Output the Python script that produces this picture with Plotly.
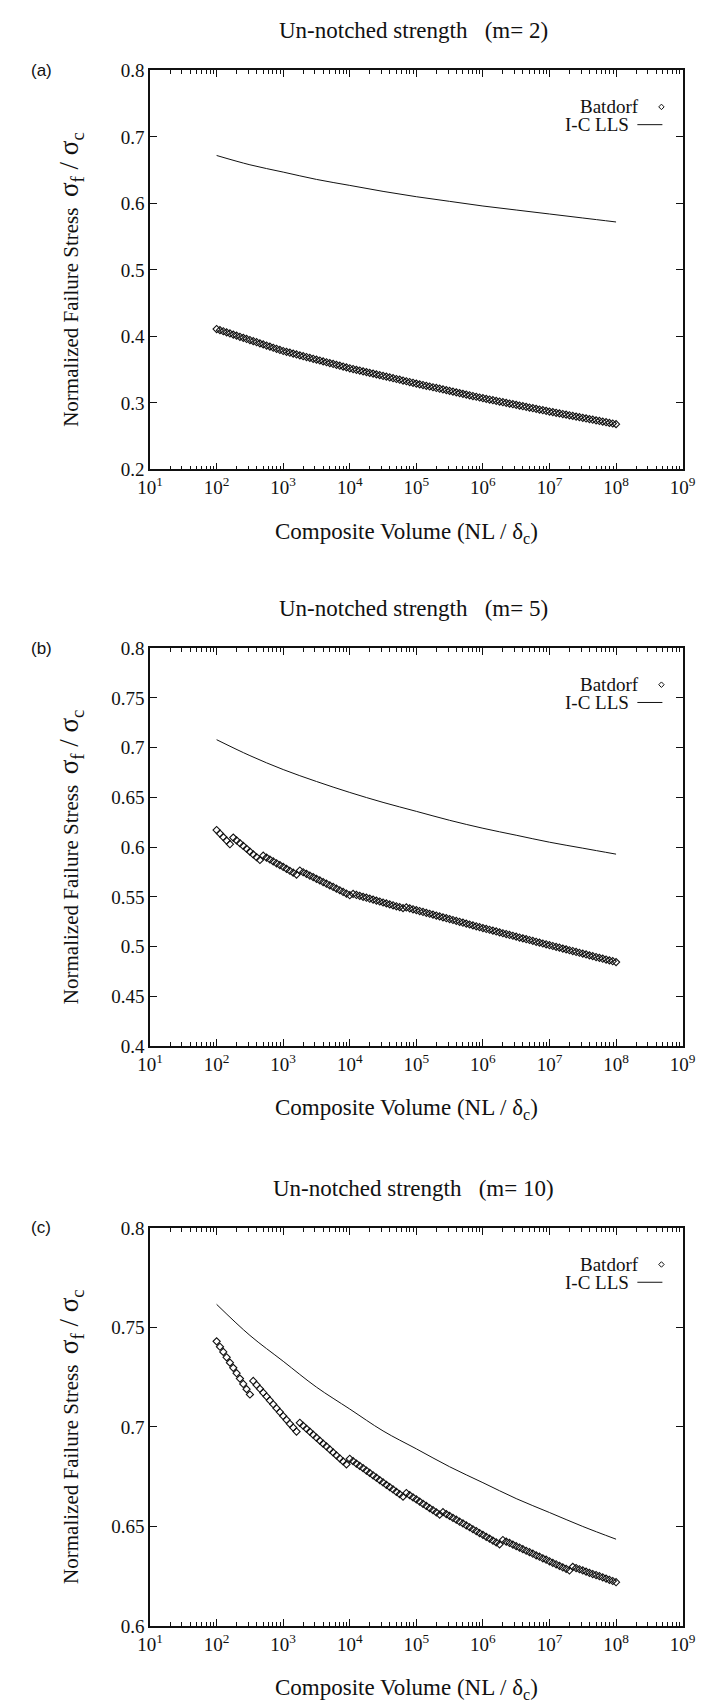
import plotly.graph_objects as go

W, H = 704, 1707

# ---------------- data ----------------
# log10 of composite volume at each Batdorf point
batdorf_logv = [
    2.00, 2.05, 2.10, 2.15, 2.20, 2.25, 2.30, 2.35, 2.40, 2.45,
    2.50, 2.55, 2.60, 2.65, 2.70, 2.75, 2.80, 2.85, 2.90, 2.95,
    3.00, 3.05, 3.10, 3.15, 3.20, 3.25, 3.30, 3.35, 3.40, 3.45,
    3.50, 3.55, 3.60, 3.65, 3.70, 3.75, 3.80, 3.85, 3.90, 3.95,
    4.00, 4.05, 4.10, 4.15, 4.20, 4.25, 4.30, 4.35, 4.40, 4.45,
    4.50, 4.55, 4.60, 4.65, 4.70, 4.75, 4.80, 4.85, 4.90, 4.95,
    5.00, 5.05, 5.10, 5.15, 5.20, 5.25, 5.30, 5.35, 5.40, 5.45,
    5.50, 5.55, 5.60, 5.65, 5.70, 5.75, 5.80, 5.85, 5.90, 5.95,
    6.00, 6.05, 6.10, 6.15, 6.20, 6.25, 6.30, 6.35, 6.40, 6.45,
    6.50, 6.55, 6.60, 6.65, 6.70, 6.75, 6.80, 6.85, 6.90, 6.95,
    7.00, 7.05, 7.10, 7.15, 7.20, 7.25, 7.30, 7.35, 7.40, 7.45,
    7.50, 7.55, 7.60, 7.65, 7.70, 7.75, 7.80, 7.85, 7.90, 7.95,
    8.00,
]

batdorf_m2 = [
    0.4110, 0.4093, 0.4077, 0.4060, 0.4044, 0.4027, 0.4011, 0.3994, 0.3978, 0.3961,
    0.3945, 0.3928, 0.3912, 0.3895, 0.3879, 0.3862, 0.3846, 0.3829, 0.3813, 0.3796,
    0.3780, 0.3767, 0.3754, 0.3741, 0.3728, 0.3715, 0.3702, 0.3689, 0.3676, 0.3663,
    0.3650, 0.3637, 0.3624, 0.3611, 0.3598, 0.3585, 0.3572, 0.3559, 0.3546, 0.3533,
    0.3520, 0.3509, 0.3497, 0.3486, 0.3474, 0.3463, 0.3451, 0.3440, 0.3428, 0.3417,
    0.3405, 0.3394, 0.3382, 0.3371, 0.3359, 0.3348, 0.3336, 0.3325, 0.3313, 0.3302,
    0.3290, 0.3279, 0.3268, 0.3257, 0.3246, 0.3235, 0.3224, 0.3213, 0.3202, 0.3191,
    0.3180, 0.3169, 0.3158, 0.3147, 0.3136, 0.3125, 0.3114, 0.3103, 0.3092, 0.3081,
    0.3070, 0.3060, 0.3050, 0.3040, 0.3030, 0.3020, 0.3010, 0.3000, 0.2990, 0.2980,
    0.2970, 0.2960, 0.2950, 0.2940, 0.2930, 0.2920, 0.2910, 0.2900, 0.2890, 0.2880,
    0.2870, 0.2861, 0.2851, 0.2842, 0.2832, 0.2823, 0.2813, 0.2804, 0.2794, 0.2785,
    0.2775, 0.2766, 0.2756, 0.2747, 0.2737, 0.2728, 0.2718, 0.2709, 0.2699, 0.2690,
    0.2680,
]

batdorf_m5 = [
    0.6172, 0.6137, 0.6101, 0.6066, 0.6030,
    0.6096, 0.6068, 0.6040, 0.6012, 0.5984, 0.5955, 0.5927, 0.5899, 0.5871,
    0.5914, 0.5895, 0.5876, 0.5857, 0.5838, 0.5820, 0.5801, 0.5782, 0.5763, 0.5744, 0.5725,
    0.5765, 0.5748, 0.5732, 0.5715, 0.5699, 0.5682, 0.5666, 0.5649, 0.5633, 0.5616,
    0.5600, 0.5583, 0.5567, 0.5550, 0.5534, 0.5517,
    0.5530, 0.5520, 0.5511, 0.5501, 0.5492, 0.5482, 0.5473, 0.5463, 0.5454, 0.5444,
    0.5435, 0.5425, 0.5416, 0.5406, 0.5397, 0.5387, 0.5394, 0.5385, 0.5376, 0.5367,
    0.5358, 0.5349, 0.5340, 0.5331, 0.5322, 0.5313, 0.5304, 0.5295, 0.5286, 0.5277,
    0.5268, 0.5259, 0.5250, 0.5241, 0.5232, 0.5223, 0.5214, 0.5205, 0.5196, 0.5187,
    0.5178, 0.5170, 0.5161, 0.5153, 0.5144, 0.5135, 0.5127, 0.5118, 0.5110, 0.5101,
    0.5092, 0.5084, 0.5075, 0.5067, 0.5058, 0.5049, 0.5041, 0.5032, 0.5024, 0.5015,
    0.5007, 0.4998, 0.4990, 0.4981, 0.4973, 0.4964, 0.4956, 0.4947, 0.4939, 0.4930,
    0.4922, 0.4913, 0.4905, 0.4896, 0.4888, 0.4879, 0.4871, 0.4862, 0.4854, 0.4845,
]

batdorf_m10 = [
    0.7430, 0.7403, 0.7377, 0.7350, 0.7323, 0.7297, 0.7270, 0.7243, 0.7216, 0.7190, 0.7163,
    0.7231, 0.7211, 0.7192, 0.7172, 0.7153, 0.7133, 0.7114, 0.7094, 0.7075, 0.7055,
    0.7036, 0.7016, 0.6997, 0.6977,
    0.7021, 0.7006, 0.6991, 0.6976, 0.6961, 0.6946, 0.6931, 0.6916, 0.6902, 0.6887,
    0.6872, 0.6857, 0.6842, 0.6827, 0.6812,
    0.6840, 0.6828, 0.6816, 0.6804, 0.6793, 0.6781, 0.6769, 0.6757, 0.6745, 0.6733,
    0.6721, 0.6709, 0.6698, 0.6686, 0.6674, 0.6662, 0.6650,
    0.6668, 0.6657, 0.6646, 0.6636, 0.6625, 0.6614, 0.6603, 0.6592, 0.6582, 0.6571, 0.6560,
    0.6572, 0.6562, 0.6553, 0.6543, 0.6534, 0.6524, 0.6515, 0.6505, 0.6496, 0.6486,
    0.6477, 0.6467, 0.6458, 0.6448, 0.6439, 0.6429, 0.6420, 0.6410,
    0.6432, 0.6424, 0.6417, 0.6409, 0.6401, 0.6394, 0.6386, 0.6378, 0.6371, 0.6363,
    0.6355, 0.6348, 0.6340, 0.6333, 0.6325, 0.6317, 0.6310, 0.6302, 0.6294, 0.6287, 0.6279,
    0.6297, 0.6291, 0.6285, 0.6279, 0.6273, 0.6267, 0.6261, 0.6256, 0.6250, 0.6244,
    0.6238, 0.6232, 0.6226, 0.6220,
]

# log10 of composite volume for the I-C LLS curves
lls_logv = [2.0, 2.5, 3.0, 3.5, 4.0, 4.5, 5.0, 5.5, 6.0, 6.5, 7.0, 7.5, 8.0]
lls_m2 = [0.672, 0.658, 0.647, 0.636, 0.627, 0.618, 0.610, 0.603, 0.596, 0.590, 0.584, 0.578, 0.572]
lls_m5 = [0.708, 0.692, 0.678, 0.666, 0.655, 0.645, 0.636, 0.627, 0.619, 0.612, 0.605, 0.599, 0.593]
lls_m10 = [0.7616, 0.746, 0.733, 0.720, 0.709, 0.698, 0.689, 0.680, 0.672, 0.664, 0.657, 0.650, 0.6436]

panel_titles = ["Un-notched strength\u00a0\u00a0\u00a0(m= 2)",
                "Un-notched strength\u00a0\u00a0\u00a0(m= 5)",
                "Un-notched strength\u00a0\u00a0\u00a0(m= 10)"]
panel_tags = ["(a)", "(b)", "(c)"]
y_ranges = [[0.2, 0.8], [0.4, 0.8], [0.6, 0.8]]
y_dticks = [0.1, 0.05, 0.05]
x_tick_exps = [1, 2, 3, 4, 5, 6, 7, 8, 9]
legend_names = ["Batdorf", "I-C LLS"]
x_title = "Composite Volume (NL / \u03b4<sub>c</sub>)"
y_title = ("Normalized Failure Stress\u00a0\u00a0"
           "<span style='font-size:27px'>\u03c3<sub>f</sub> / \u03c3<sub>c</sub></span>")

for arr in (batdorf_m2, batdorf_m5, batdorf_m10):
    assert len(arr) == len(batdorf_logv), len(arr)

batdorf = [batdorf_m2, batdorf_m5, batdorf_m10]
lls = [lls_m2, lls_m5, lls_m10]

# ---------------- layout geometry (pixels) ----------------
X0, X1 = 134, 687
frames = [(53, 457), (638, 1041), (1225, 1628)]

def px(xp):
    return xp / W

def py(yp):
    return 1 - yp / H

SERIF = "Liberation Serif"
SANS = "Liberation Sans"
INK = "#111111"

fig = go.Figure()
annotations = []
shapes = []

x_vals = [10 ** e for e in batdorf_logv]
x_lls = [10 ** e for e in lls_logv]
minor_vals = [m * 10 ** k for k in range(1, 9) for m in range(2, 10)]

for i in range(3):
    sfx = "" if i == 0 else str(i + 1)
    top, bot = frames[i]
    fig.add_trace(go.Scatter(
        x=x_vals, y=batdorf[i], mode="markers", name=legend_names[0],
        marker=dict(symbol="diamond-open", size=5.5, color=INK, line=dict(width=1.1, color=INK)),
        xaxis="x" + sfx, yaxis="y" + sfx, showlegend=False))
    fig.add_trace(go.Scatter(
        x=x_lls, y=lls[i], mode="lines", name=legend_names[1],
        line=dict(color=INK, width=1, shape="spline"),
        xaxis="x" + sfx, yaxis="y" + sfx, showlegend=False))

    fig.layout["xaxis" + sfx] = dict(
        type="log", range=[1, 9], domain=[px(X0), px(X1)], anchor="y" + sfx,
        tickvals=[10 ** k for k in x_tick_exps],
        ticktext=[f"10<sup>{k}</sup>" for k in x_tick_exps],
        ticks="inside", ticklen=7, tickwidth=1, tickcolor=INK,
        minor=dict(tickvals=minor_vals, ticks="inside", ticklen=4, tickwidth=1, tickcolor=INK),
        mirror="ticks", showline=True, linecolor=INK, linewidth=1.5,
        showgrid=False, zeroline=False,
        tickfont=dict(family=SERIF, size=19, color=INK))
    fig.layout["yaxis" + sfx] = dict(
        range=y_ranges[i], dtick=y_dticks[i], tick0=y_ranges[i][0],
        domain=[py(bot), py(top)], anchor="x" + sfx,
        ticks="inside", ticklen=7, tickwidth=1, tickcolor=INK,
        mirror="ticks", showline=True, linecolor=INK, linewidth=1.5,
        showgrid=False, zeroline=False,
        tickfont=dict(family=SERIF, size=19, color=INK))

    # panel title
    annotations.append(dict(text=panel_titles[i], xref="paper", yref="paper",
                            x=px(408), y=py(top - 40), showarrow=False,
                            xanchor="center", yanchor="middle",
                            font=dict(family=SERIF, size=23, color=INK)))
    # panel tag
    annotations.append(dict(text=panel_tags[i], xref="paper", yref="paper",
                            x=px(8), y=py(top), showarrow=False,
                            xanchor="left", yanchor="middle",
                            font=dict(family=SANS, size=17, color=INK)))
    # x title
    annotations.append(dict(text=x_title, xref="paper", yref="paper",
                            x=px(400), y=py(bot + 64), showarrow=False,
                            xanchor="center", yanchor="middle",
                            font=dict(family=SERIF, size=23, color=INK)))
    # y title
    annotations.append(dict(text=y_title, xref="paper", yref="paper",
                            x=px(52), y=py((top + bot) / 2 + 10), showarrow=False,
                            textangle=-90, xanchor="center", yanchor="middle",
                            font=dict(family=SERIF, size=21, color=INK)))
    # legend (text left of key, gnuplot style)
    r1, r2 = top + 37, top + 55
    annotations.append(dict(text=legend_names[0], xref="paper", yref="paper",
                            x=px(644), y=py(r1), showarrow=False,
                            xanchor="right", yanchor="middle",
                            font=dict(family=SERIF, size=19, color=INK)))
    annotations.append(dict(text=legend_names[1], xref="paper", yref="paper",
                            x=px(633), y=py(r2), showarrow=False,
                            xanchor="right", yanchor="middle",
                            font=dict(family=SERIF, size=19, color=INK)))
    cx, cy, d = 665, r1, 2.8
    shapes.append(dict(type="path", xref="paper", yref="paper",
                       path=(f"M {px(cx - d)},{py(cy)} L {px(cx)},{py(cy - d)} "
                             f"L {px(cx + d)},{py(cy)} L {px(cx)},{py(cy + d)} Z"),
                       line=dict(color=INK, width=1)))
    shapes.append(dict(type="line", xref="paper", yref="paper",
                       x0=px(640), x1=px(666), y0=py(r2), y1=py(r2),
                       line=dict(color=INK, width=1)))

fig.update_layout(
    width=W, height=H, margin=dict(l=0, r=0, t=0, b=0),
    paper_bgcolor="white", plot_bgcolor="white", showlegend=False,
    annotations=annotations, shapes=shapes,
)

fig.write_html("out.html")
